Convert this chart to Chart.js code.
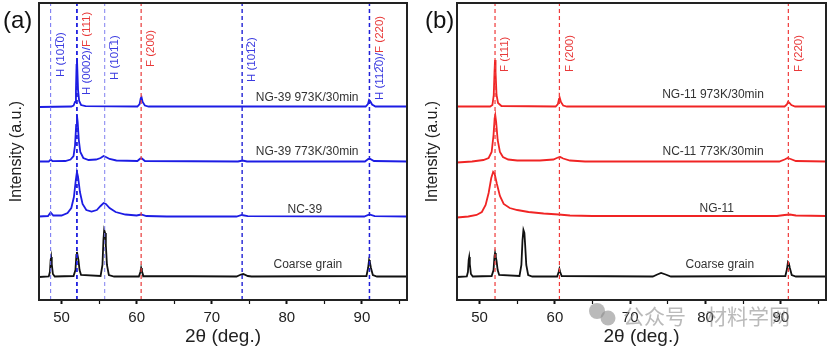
<!DOCTYPE html>
<html>
<head>
<meta charset="utf-8">
<script src="https://cdn.jsdelivr.net/npm/chart.js@4.4.0/dist/chart.umd.min.js"></script>
<style>
  body { margin: 0; background: #fff; }
  #wrap { position: relative; width: 831px; height: 350px; }
  canvas { position: absolute; top: 0; }
</style>
</head>
<body>
<div id="wrap">
  <canvas id="chartA" width="415" height="350" style="left:0"></canvas>
  <canvas id="chartB" width="416" height="350" style="left:415px"></canvas>
</div>
<script>
// x tick values (2theta, deg.)
const xTicks = [50, 55, 60, 65, 70, 75, 80, 85, 90, 95];

// panel (a) patterns, [2theta, intensity + offset]
const ng39_973 = [[47,193],[51.3,193.5],[51.6,194.5],[51.8,198],[51.92,210],[52.0,235],[52.05,242],[52.1,232],[52.2,210],[52.35,199],[52.6,195],[53.2,193.8],[60.1,193.5],[60.4,196],[60.55,202],[60.65,203],[60.8,198],[61.1,194.5],[61.6,193.5],[90.5,193.5],[90.8,196],[90.95,200],[91.1,199],[91.35,195.5],[91.8,193.5],[96,193.5]];
const ng39_773 = [[47,138.5],[48.3,138.5],[48.55,140.5],[48.8,138.8],[50.5,139],[51.2,140.5],[51.6,144],[51.8,155],[51.95,175],[52.05,185],[52.15,178],[52.3,160],[52.5,148],[52.9,142],[53.6,140],[54.6,140.5],[55.2,142],[55.6,144],[55.9,143],[56.4,141],[57.3,139.5],[60.1,139],[60.5,141.5],[60.7,141.5],[61.1,139],[73.5,138.5],[74.1,139.5],[74.7,138.5],[90.4,138.5],[90.85,141],[91.1,141],[91.6,139],[96,138.5]];
const nc39 = [[47,83.5],[48.2,84],[48.55,87.5],[48.9,84.5],[50.0,84.5],[50.8,87],[51.3,92],[51.65,103],[51.9,120],[52.05,128],[52.2,123],[52.45,108],[52.8,96],[53.3,90],[54.0,88.5],[54.7,90],[55.2,94],[55.6,97],[55.9,96],[56.4,92],[57.2,88],[58.5,85.5],[60.0,84.5],[60.6,85.5],[61.3,84],[64,83.5],[73.3,83.5],[74.0,85],[74.8,83.8],[90.3,83.5],[91.0,85.5],[91.7,83.8],[96,83.5]];
const coarseA = [[47,23],[48.3,23.5],[48.45,28],[48.55,40],[48.62,43],[48.7,36],[48.85,26],[49.1,23.5],[51.6,24],[51.85,30],[51.98,45],[52.05,48],[52.15,44],[52.25,40],[52.4,30],[52.6,25],[55.2,24],[55.45,35],[55.58,60],[55.68,70],[55.8,67],[55.9,55],[56.05,35],[56.3,25],[57,23.5],[60.3,23.5],[60.5,28],[60.6,32],[60.7,29],[60.9,24],[73.3,23.5],[73.9,25.5],[74.2,26],[74.8,24],[75.3,23.5],[90.6,24],[90.82,32],[90.95,40],[91.05,38],[91.2,32],[91.45,25],[92,23.5],[96,23.5]];

// panel (b) patterns
const ng11_973 = [[47,193.5],[51.4,193.5],[51.7,195],[51.88,205],[51.98,228],[52.05,240],[52.12,228],[52.25,205],[52.45,197],[52.9,194],[60.1,193.5],[60.4,196],[60.55,201],[60.65,202],[60.8,198],[61.1,194.5],[61.6,193.5],[90.5,193.5],[90.8,195.5],[90.95,198],[91.1,197.5],[91.4,195],[91.9,193.5],[96,193.5]];
const nc11_773 = [[47,137.5],[49,138.5],[50.5,140],[51.2,142],[51.6,148],[51.85,165],[52.0,182],[52.08,185],[52.2,178],[52.4,160],[52.7,148],[53.1,143],[53.8,140.5],[55,139.5],[58,139.5],[59.8,140.5],[60.4,142.5],[60.7,143],[61.1,141.5],[62,139.5],[64,138.5],[89.8,138.5],[90.5,140.5],[90.9,142],[91.3,141],[92,139],[96,138.5]];
const ng11 = [[47,82.5],[48.5,83.5],[49.6,85],[50.3,88],[50.8,95],[51.2,107],[51.55,122],[51.8,128],[52.0,126],[52.3,116],[52.7,104],[53.2,96],[54.0,92],[55.0,90],[56.5,88],[58.5,86.5],[60.5,85.5],[62,84.5],[65,84],[89.5,84],[90.5,85],[91.2,85.5],[92,84.5],[96,84]];
const coarseB = [[47,23],[48.3,23.5],[48.45,28],[48.55,40],[48.62,43],[48.7,36],[48.85,26],[49.1,23.5],[51.6,24],[51.85,30],[51.98,44],[52.05,47],[52.15,43],[52.25,39],[52.4,30],[52.6,25],[55.3,24],[55.55,35],[55.7,60],[55.82,70],[55.95,67],[56.05,55],[56.2,35],[56.45,25],[57,23.5],[60.3,23.5],[60.5,28],[60.6,31],[60.7,28],[60.9,24],[73.0,23.5],[73.6,25.5],[74.1,27],[74.7,25.5],[75.4,23.5],[90.6,24],[90.82,31],[90.95,38],[91.05,37],[91.2,32],[91.45,25],[92,23.5],[96,23.5]];

// reference peak positions
const refA = [48.55, 52.05, 55.75, 60.6, 74.05, 91.0];
const refLabelsA = ['H (101\u03050)', 'H (0002)/F (111)', 'H (101\u03051)', 'F (200)', 'H (101\u03052)', 'H (112\u03050)/F (220)'];
const refB = [52.05, 60.6, 91.0];
const refLabelsB = ['F (111)', 'F (200)', 'F (220)'];

const curveNamesA = ['NG-39 973K/30min', 'NG-39 773K/30min', 'NC-39', 'Coarse grain'];
const curveNamesB = ['NG-11 973K/30min', 'NC-11 773K/30min', 'NG-11', 'Coarse grain'];

const BLUE = '#1c1ce4';
const RED = '#f02424';
const BLACK = '#111111';
const Y_MAX = 297;

Chart.defaults.font.family = '"Liberation Sans", Arial, sans-serif';

function toXY(arr) {
    return arr.map(p => ({ x: p[0], y: p[1] }));
}

const overlay = {
    id: 'overlay',
    afterDatasetsDraw(chart, args, o) {
        const ctx = chart.ctx;
        const xs = chart.scales.x, ys = chart.scales.y;
        const area = chart.chartArea;
        ctx.save();
        // peak labels, rotated
        ctx.font = '11.5px "Liberation Sans", Arial, sans-serif';
        ctx.textBaseline = 'middle';
        ctx.textAlign = 'left';
        o.refs.forEach((x, i) => {
            const px = xs.getPixelForValue(x) + o.labelDx;
            ctx.save();
            ctx.translate(px, o.labelBottom[i]);
            ctx.rotate(-Math.PI / 2);
            let off = 0;
            o.refLabels[i].split('/').forEach((part, k, all) => {
                const txt = part + (k < all.length - 1 ? '/' : '');
                ctx.fillStyle = part.startsWith('F') ? o.fColor : o.hColor;
                ctx.fillText(txt, off, 0);
                off += ctx.measureText(txt).width;
            });
            ctx.restore();
        });
        // curve names
        ctx.font = '12px "Liberation Sans", Arial, sans-serif';
        ctx.fillStyle = '#333';
        ctx.textAlign = 'center';
        o.names.forEach((n, i) => {
            ctx.fillText(n, xs.getPixelForValue(o.nameX[i]), ys.getPixelForValue(o.nameY[i]));
        });
        // frame
        ctx.strokeStyle = '#222';
        ctx.lineWidth = 2;
        ctx.strokeRect(area.left, area.top, area.right - area.left, area.bottom - area.top);
        // panel letter
        ctx.fillStyle = '#111';
        ctx.font = '24px "Liberation Sans", Arial, sans-serif';
        ctx.textAlign = 'left';
        ctx.fillText(o.letter, o.letterX, 21);
        ctx.restore();
    },
    afterDraw(chart, args, o) {
        if (!o.watermark) return;
        const ctx = chart.ctx;
        ctx.save();
        ctx.fillStyle = 'rgba(140,140,140,0.6)';
        ctx.beginPath();
        ctx.arc(182, 311, 8, 0, Math.PI * 2);
        ctx.fill();
        ctx.beginPath();
        ctx.arc(193, 318, 7.5, 0, Math.PI * 2);
        ctx.fill();
        ctx.font = '21px "Noto Sans CJK SC", sans-serif';
        ctx.textBaseline = 'middle';
        ctx.fillText('公众号', 208, 316);
        ctx.fillText('材料学网', 291, 316);
        ctx.restore();
    }
};

function buildChart(id, cfg) {
    const datasets = [];
    cfg.refs.forEach((x, i) => {
        datasets.push({
            data: [{ x: x, y: 0 }, { x: x, y: Y_MAX }],
            borderColor: cfg.refColors[i],
            borderWidth: cfg.refWidths[i],
            borderDash: [4, 3],
            order: 0
        });
    });
    cfg.traces.forEach((t, i) => {
        datasets.push({
            data: toXY(t),
            borderColor: cfg.traceColors[i],
            borderWidth: 1.8,
            order: 1
        });
    });

    return new Chart(document.getElementById(id), {
        type: 'line',
        data: { datasets: datasets },
        options: {
            responsive: false,
            animation: false,
            events: [],
            layout: { padding: { left: 0, right: cfg.padRight, top: 3, bottom: 0 } },
            elements: { point: { radius: 0 }, line: { tension: 0 } },
            plugins: {
                legend: { display: false },
                tooltip: { enabled: false },
                overlay: {
                    refs: cfg.refs,
                    refLabels: cfg.refLabels,
                    labelBottom: cfg.labelBottom,
                    labelDx: 10,
                    hColor: '#3a3ae0',
                    fColor: '#e83a3a',
                    names: cfg.names,
                    nameX: cfg.nameX,
                    nameY: cfg.nameY,
                    letter: cfg.letter,
                    letterX: cfg.letterX,
                    watermark: cfg.watermark
                }
            },
            scales: {
                x: {
                    type: 'linear',
                    min: 47,
                    max: 96,
                    afterFit: s => { s.height = 50; },
                    afterBuildTicks: s => { s.ticks = xTicks.map(v => ({ value: v })); },
                    ticks: {
                        autoSkip: false,
                        maxRotation: 0,
                        padding: 5,
                        color: '#222',
                        font: { size: 15 },
                        callback: v => (v % 10 === 0 ? v : '')
                    },
                    grid: {
                        drawOnChartArea: false,
                        drawTicks: true,
                        tickLength: 4,
                        tickColor: '#111',
                        tickWidth: c => (c.tick && c.tick.value % 10 === 0 ? 2 : 1.2)
                    },
                    border: { display: false },
                    title: {
                        display: true,
                        text: '2\u03b8 (deg.)',
                        color: '#222',
                        font: { size: 19 },
                        padding: { top: 0, bottom: 2 }
                    }
                },
                y: {
                    min: 0,
                    max: Y_MAX,
                    afterFit: s => { s.width = cfg.yWidth; },
                    ticks: { display: false },
                    grid: { display: false },
                    border: { display: false },
                    title: {
                        display: true,
                        text: 'Intensity (a.u.)',
                        color: '#222',
                        font: { size: 16 },
                        padding: { top: cfg.yTitlePad, bottom: 0 }
                    }
                }
            }
        },
        plugins: [overlay]
    });
}

buildChart('chartA', {
    traces: [ng39_973, ng39_773, nc39, coarseA],
    traceColors: [BLUE, BLUE, BLUE, BLACK],
    refs: refA,
    refLabels: refLabelsA,
    refColors: ['#6f6ff2', '#2020e0', '#8080f0', '#e83a3a', '#3030d8', '#2020d8'],
    refWidths: [1, 1.8, 1, 1.2, 1.5, 1.5],
    labelBottom: [77, 95, 80, 67, 82, 100],
    names: curveNamesA,
    nameX: [82.7, 82.7, 82.4, 82.8],
    nameY: [202, 148, 90, 35],
    letter: '(a)',
    letterX: 3,
    padRight: 8,
    yWidth: 39,
    yTitlePad: 7,
    watermark: false
});

buildChart('chartB', {
    traces: [ng11_973, nc11_773, ng11, coarseB],
    traceColors: [RED, RED, RED, BLACK],
    refs: refB,
    refLabels: refLabelsB,
    refColors: ['#f03a3a', '#f03a3a', '#f03a3a'],
    refWidths: [1.2, 1.2, 1.2],
    labelBottom: [72, 72, 72],
    names: curveNamesB,
    nameX: [81.0, 81.0, 81.5, 81.9],
    nameY: [205, 148, 91, 35],
    letter: '(b)',
    letterX: 10,
    padRight: 5,
    yWidth: 42,
    yTitlePad: 8,
    watermark: true
});
</script>
</body>
</html>
